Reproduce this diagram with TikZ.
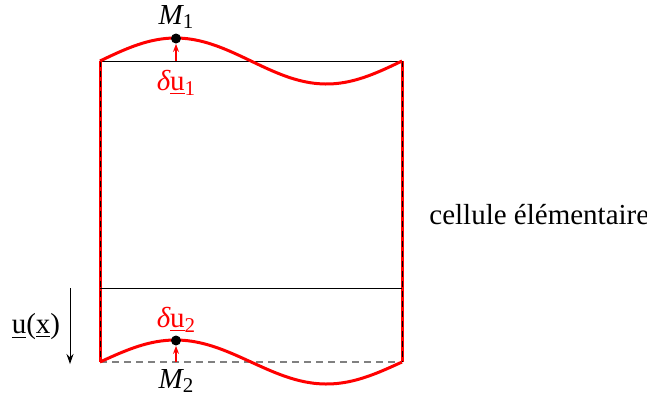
\documentclass[tikz,border=0pt]{standalone}
\usepackage{fontspec}
\setmainfont{Liberation Serif}
\usetikzlibrary{arrows.meta}
\begin{document}
\begin{tikzpicture}[x=0.5pt,y=-0.5pt,
  redw/.style={red,line width=1.5pt},
  edge/.style={black,line width=0.5pt},
  dashedge/.style={black,line width=0.5pt,dash pattern=on 3pt off 2pt},
  grayd/.style={gray,line width=0.6pt,dash pattern=on 3.5pt off 2.5pt},
  dot/.style={circle,fill=black,inner sep=0pt,minimum size=5pt},
  lbl/.style={font=\fontsize{14.5}{17}\selectfont,inner sep=1pt},
  rlbl/.style={lbl,text=red},
  darr/.style={red,line width=0.6pt,-{Stealth[length=4pt,width=3pt]}}]
\useasboundingbox (0,0) rectangle (647,398);
% corners
\coordinate (tl) at (100,61);
\coordinate (tr) at (402,61);
\coordinate (ml) at (100,288);
\coordinate (mr) at (402,288);
\coordinate (bl) at (100,362);
\coordinate (br) at (402,362);
% side edges
\draw[redw] (tl) -- (bl);
\draw[redw] (tr) -- (br);
\draw[dashedge] (tl) -- (bl);
\draw[dashedge] (tr) -- (br);
% horizontal lines
\draw[edge] (tl) -- (tr);
\draw[edge] (ml) -- (mr);
\draw[grayd] (bl) -- (br);
% waves
\draw[redw] plot[domain=0:302,samples=80,smooth] ({100+\x},{61-23*sin(1.19205*\x)});
\draw[redw] plot[domain=0:302,samples=80,smooth] ({100+\x},{362-22*sin(1.19205*\x)});
% points
\node[dot] (M1) at (176,38.5) {};
\node[dot] (M2) at (176,340.5) {};
\coordinate (a1) at (176,61);
\coordinate (a2) at (176,362);
\draw[darr] (a1) -- (M1.south);
\draw[darr] (a2) -- (M2.south);
\node[lbl] (lM1) at (176,17) {\itshape M\raisebox{-0.35ex}{\fontsize{10.5}{12}\selectfont\upshape 1}};
\node[lbl] (lM2) at (176,381) {\itshape M\raisebox{-0.35ex}{\fontsize{10.5}{12}\selectfont\upshape 2}};
\node[rlbl] (du1) at (176,83) {\itshape δ\upshape\underline{u}\raisebox{-0.35ex}{\fontsize{10.5}{12}\selectfont 1}};
\node[rlbl] (du2) at (176,320) {\itshape δ\upshape\underline{u}\raisebox{-0.35ex}{\fontsize{10.5}{12}\selectfont 2}};
% left arrow
\coordinate (ua) at (70,288);
\coordinate (ub) at (70,364);
\draw[edge,-{Stealth[length=5pt,width=3.5pt]}] (ua) -- (ub);
\node[lbl] (ux) at (36,327) {\underline{u}(\underline{x})};
% label
\node[lbl,anchor=west] (cell) at (427,215) {cellule élémentaire};
\end{tikzpicture}
\end{document}
